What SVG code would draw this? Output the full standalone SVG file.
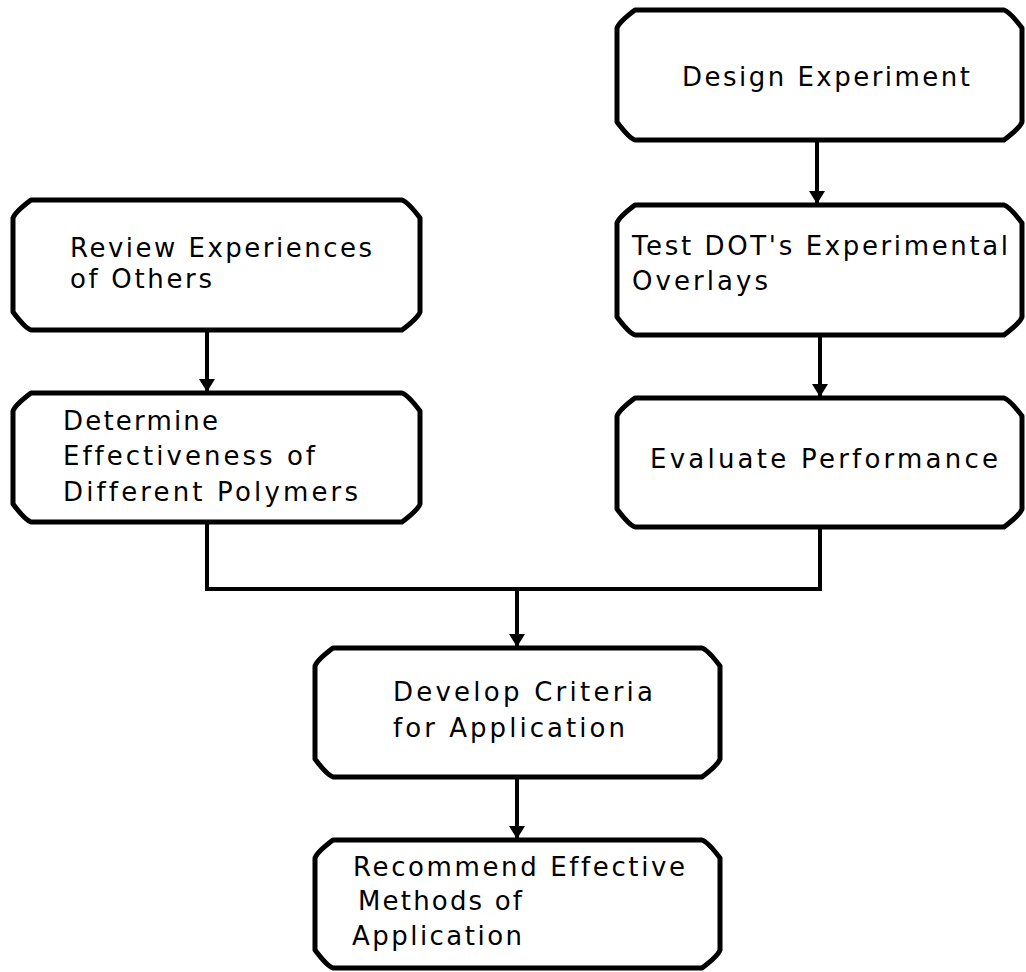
<svg xmlns="http://www.w3.org/2000/svg" width="1026" height="972" viewBox="0 0 1026 972">
  <style>
    .box { fill: #fff; stroke: #000; stroke-width: 5; stroke-linejoin: round; }
    .lbl { font-family: "DejaVu Sans", "Liberation Sans", sans-serif; font-size: 26px; fill: #000; font-variant-ligatures: none; }
    .wire { fill: none; stroke: #000; stroke-width: 4; stroke-linejoin: miter; }
  </style>
  <defs>
    <!-- arrowhead drawn along +x so orient="auto" turns it with the line -->
    <marker id="arrow" viewBox="0 0 13 16" refX="13" refY="8" markerWidth="13" markerHeight="16" markerUnits="userSpaceOnUse" orient="auto">
      <path d="M0,0 L13,8 L0,16 Z" fill="#000"/>
    </marker>
  </defs>
  <rect width="1026" height="972" fill="#fff"/>

  <!-- connectors -->
  <g id="connectors">
    <line class="wire" x1="817" y1="140" x2="817" y2="204" marker-end="url(#arrow)"/>
    <line class="wire" x1="820" y1="335" x2="820" y2="397" marker-end="url(#arrow)"/>
    <line class="wire" x1="207" y1="330" x2="207" y2="392" marker-end="url(#arrow)"/>
    <polyline class="wire" points="207,522 207,589 820,589 820,527"/>
    <line class="wire" x1="517" y1="589" x2="517" y2="647" marker-end="url(#arrow)"/>
    <line class="wire" x1="517" y1="777" x2="517" y2="839" marker-end="url(#arrow)"/>
  </g>

  <!-- nodes: boxes with cut corners -->
  <g id="design-experiment">
    <path class="box" d="M635,10 H1004 Q1010,12 1022,28 V122 Q1020,128 1004,140 H635 Q629,138 617,122 V28 Q619,22 635,10 Z"/>
    <text class="lbl" x="682" y="86" textLength="288" lengthAdjust="spacing">Design Experiment</text>
  </g>

  <g id="test-overlays">
    <path class="box" d="M635,205 H1004 Q1010,207 1022,223 V317 Q1020,323 1004,335 H635 Q629,333 617,317 V223 Q619,217 635,205 Z"/>
    <text class="lbl" x="632" y="255" textLength="376" lengthAdjust="spacing">Test DOT's Experimental</text>
    <text class="lbl" x="632" y="290" textLength="136" lengthAdjust="spacing">Overlays</text>
  </g>

  <g id="evaluate-performance">
    <path class="box" d="M635,398 H1004 Q1010,400 1022,416 V509 Q1020,515 1004,527 H635 Q629,525 617,509 V416 Q619,410 635,398 Z"/>
    <text class="lbl" x="650" y="468" textLength="348" lengthAdjust="spacing">Evaluate Performance</text>
  </g>

  <g id="review-experiences">
    <path class="box" d="M31,200 H402 Q408,202 420,218 V312 Q418,318 402,330 H31 Q25,328 13,312 V218 Q15,212 31,200 Z"/>
    <text class="lbl" x="70" y="257" textLength="302" lengthAdjust="spacing">Review Experiences</text>
    <text class="lbl" x="70" y="288" textLength="142" lengthAdjust="spacing">of Others</text>
  </g>

  <g id="determine-effectiveness">
    <path class="box" d="M31,393 H402 Q408,395 420,411 V504 Q418,510 402,522 H31 Q25,520 13,504 V411 Q15,405 31,393 Z"/>
    <text class="lbl" x="63" y="430" textLength="155" lengthAdjust="spacing">Determine</text>
    <text class="lbl" x="63" y="465" textLength="252" lengthAdjust="spacing">Effectiveness of</text>
    <text class="lbl" x="63" y="501" textLength="295" lengthAdjust="spacing">Different Polymers</text>
  </g>

  <g id="develop-criteria">
    <path class="box" d="M333,648 H702 Q708,650 720,666 V759 Q718,765 702,777 H333 Q327,775 315,759 V666 Q317,660 333,648 Z"/>
    <text class="lbl" x="393" y="701" textLength="260" lengthAdjust="spacing">Develop Criteria</text>
    <text class="lbl" x="393" y="737" textLength="232" lengthAdjust="spacing">for Application</text>
  </g>

  <g id="recommend-methods">
    <path class="box" d="M333,840 H702 Q708,842 720,858 V950 Q718,956 702,968 H333 Q327,966 315,950 V858 Q317,852 333,840 Z"/>
    <text class="lbl" x="353" y="876" textLength="332" lengthAdjust="spacing">Recommend Effective</text>
    <text class="lbl" x="358" y="910" textLength="164" lengthAdjust="spacing">Methods of</text>
    <text class="lbl" x="352" y="945" textLength="170" lengthAdjust="spacing">Application</text>
  </g>
</svg>
